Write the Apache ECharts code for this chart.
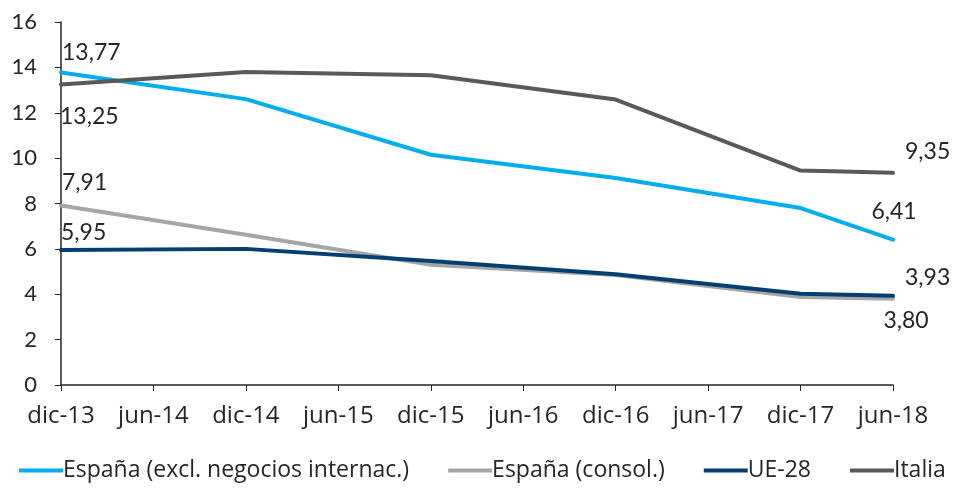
<!DOCTYPE html>
<html>
<head>
<meta charset="utf-8">
<script src="https://cdn.jsdelivr.net/npm/echarts@6/dist/echarts.min.js"></script>
<style>
  html, body { margin: 0; padding: 0; background: #fff; }
  #chart { width: 960px; height: 493px; }
</style>
</head>
<body>
<div id="chart"></div>
<script>
// Half-year periods on the x axis
const periods = ['dic-13', 'jun-14', 'dic-14', 'jun-15', 'dic-15', 'jun-16', 'dic-16', 'jun-17', 'dic-17', 'jun-18'];

// Series values (null where a period has no observation)
const espanaExcl = [13.77, null, 12.6, null, 10.15, null, 9.12, null, 7.8, 6.41];
const espanaConsol = [7.91, null, 6.62, null, 5.3, null, 4.85, null, 3.88, 3.80];
const ue28 = [5.95, null, 6.0, null, 5.47, null, 4.88, null, 4.02, 3.93];
const italia = [13.25, null, 13.8, null, 13.65, null, 12.58, null, 9.45, 9.35];

const seriesNames = ['España (excl. negocios internac.)', 'España (consol.)', 'UE-28', 'Italia'];
const seriesColors = ['#00AEEF', '#A6A6A6', '#003F72', '#595959'];

const labelFont = 'Lato, "Open Sans", sans-serif';
const textFont = '"Open Sans", sans-serif';
const textColor = '#262626';

function fmt(v) {
  return v.toFixed(2).replace('.', ',');
}

// Label placement for the first and last observation of each series
const endLabels = [
  { first: { position: 'top', align: 'left', offset: [1, -9] },
    last: { position: 'top', align: 'center', offset: [1, -16] } },
  { first: { position: 'top', align: 'left', offset: [1, -11] },
    last: { position: 'bottom', align: 'center', offset: [13, 10] } },
  { first: { position: 'top', align: 'left', offset: [0, -6] },
    last: { position: 'top', align: 'left', offset: [12, -7] } },
  { first: { position: 'bottom', align: 'left', offset: [-1, 21] },
    last: { position: 'top', align: 'left', offset: [12, -10] } }
];

function buildData(values, cfg) {
  const lastIdx = values.length - 1;
  return values.map((v, i) => {
    if (v === null) return null;
    const c = i === 0 ? cfg.first : (i === lastIdx ? cfg.last : null);
    if (!c) return { value: v };
    return {
      value: v,
      label: {
        show: true,
        position: c.position,
        align: c.align,
        verticalAlign: 'middle',
        offset: c.offset,
        distance: 11,
        formatter: p => fmt(p.value),
        fontFamily: labelFont,
        fontSize: 23,
        color: textColor
      }
    };
  });
}

const allValues = [espanaExcl, espanaConsol, ue28, italia];

const series = allValues.map((vals, k) => ({
  name: seriesNames[k],
  type: 'line',
  data: buildData(vals, endLabels[k]),
  connectNulls: true,
  showSymbol: true,
  symbol: 'circle',
  symbolSize: 1,
  label: { show: false },
  lineStyle: { width: 4, color: seriesColors[k], cap: 'round', join: 'round' },
  itemStyle: { color: seriesColors[k] },
  emphasis: { disabled: true },
  z: k === 2 ? 4 : 3
}));

const chart = echarts.init(document.getElementById('chart'), null, { renderer: 'canvas' });
chart.setOption({
  animation: false,
  backgroundColor: '#ffffff',
  grid: { left: 61, right: 67, top: 22, bottom: 108, containLabel: false },
  legend: {
    bottom: 6,
    left: 14,
    icon: 'rect',
    itemWidth: 44,
    itemHeight: 4,
    itemGap: 39,
    textStyle: { fontFamily: textFont, fontSize: 23, color: textColor, padding: [0, 0, 0, -5] },
    data: seriesNames
  },
  xAxis: {
    type: 'category',
    data: periods,
    boundaryGap: false,
    axisLine: { lineStyle: { color: textColor, width: 1.5 } },
    axisTick: { show: true, alignWithLabel: true, length: 6, lineStyle: { color: textColor } },
    axisLabel: { margin: 19, fontFamily: textFont, fontSize: 24, color: textColor },
    splitLine: { show: false }
  },
  yAxis: {
    type: 'value',
    min: 0,
    max: 16,
    interval: 2,
    axisLine: { show: true, lineStyle: { color: textColor, width: 1.5 } },
    axisTick: { show: true, length: 6, lineStyle: { color: textColor } },
    axisLabel: { margin: 24, fontFamily: labelFont, fontSize: 22, color: textColor },
    splitLine: { show: false }
  },
  series: series
});
</script>
</body>
</html>
